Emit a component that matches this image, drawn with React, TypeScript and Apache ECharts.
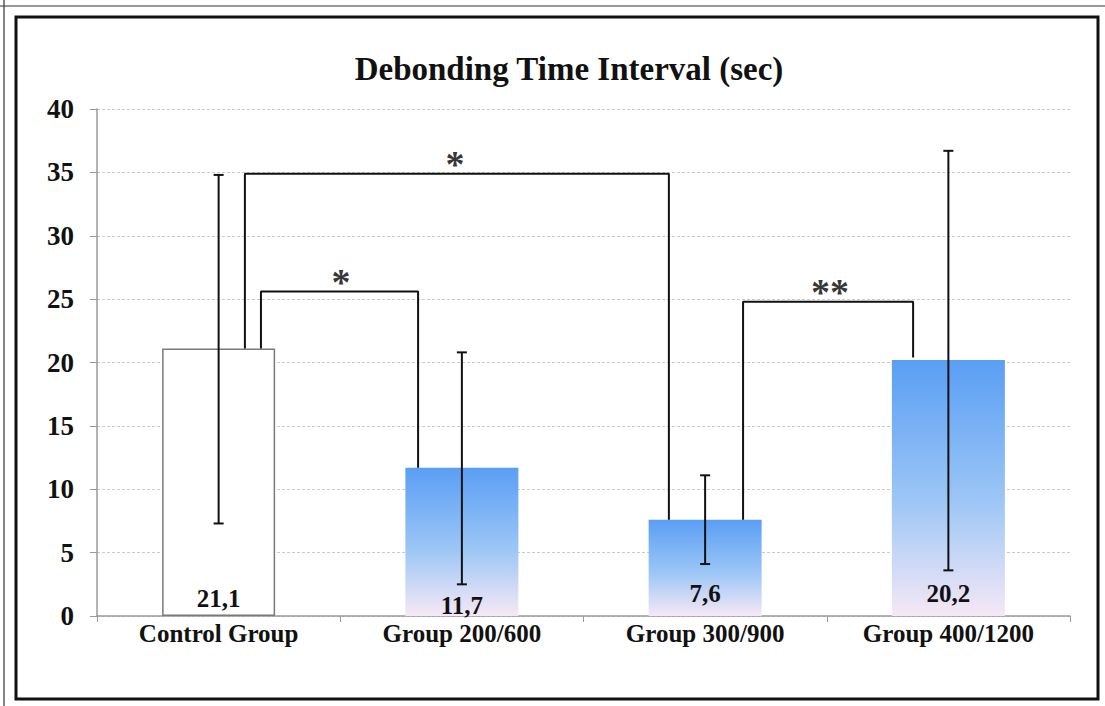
import React, { useEffect, useRef } from "react";
import * as echarts from "echarts";

const categories = ["Control Group", "Group 200/600", "Group 300/900", "Group 400/1200"];
const means = [21.1, 11.7, 7.6, 20.2];
const valueLabels = ["21,1", "11,7", "7,6", "20,2"];
const errLow = [7.3, 2.5, 4.1, 3.6];
const errHigh = [34.8, 20.8, 11.1, 36.7];
const yTicks = [0, 5, 10, 15, 20, 25, 30, 35, 40];

// significance brackets (x in category units, y in seconds)
const bracketX1 = [0.108, 0.174, 2.156];
const bracketX2 = [1.851, 0.82, 2.855];
const bracketTop = [34.9, 25.6, 24.8];
const bracketLeftBottom = [21.1, 21.1, 7.6];
const bracketRightBottom = [7.6, 11.7, 20.4];
const bracketStarX = [0.972, 0.503, 2.513];
const bracketStars = ["*", "*", "**"];

const SERIF = "'Liberation Serif', 'Times New Roman', serif";
const labelDistances = [5, -2, 10, 10];

export default function App() {
  const ref = useRef<HTMLDivElement>(null);
  useEffect(() => {
    if (!ref.current) return;
    const chart = echarts.init(ref.current, null, { renderer: "svg" });
    const blueGrad = new echarts.graphic.LinearGradient(0, 0, 0, 1, [
      { offset: 0, color: "#5a9ef4" },
      { offset: 0.55, color: "#9cc6f6" },
      { offset: 1, color: "#f6e8f6" },
    ]);
    const barData = means.map((v, i) => ({
      value: v,
      itemStyle:
        i === 0
          ? { color: "#ffffff", borderColor: "#7a7a7a", borderWidth: 1.5 }
          : { color: blueGrad },
      label: { distance: labelDistances[i] },
    }));
    const bracketSeries = bracketX1.map((x1, i) => ({
      type: "line",
      xAxisIndex: 1,
      yAxisIndex: 0,
      symbol: "none",
      silent: true,
      z: 5,
      lineStyle: { color: "#111", width: 2 },
      data: [
        [x1, bracketLeftBottom[i]],
        [x1, bracketTop[i]],
        [bracketX2[i], bracketTop[i]],
        [bracketX2[i], bracketRightBottom[i]],
      ],
    }));
    const option = {
      animation: false,
      backgroundColor: "#ffffff",
      title: {
        text: "Debonding Time Interval (sec)",
        left: 564,
        textAlign: "center",
        top: 47,
        textStyle: { fontFamily: SERIF, fontWeight: "bold", fontSize: 33, color: "#111" },
      },
      grid: { left: 97, right: 35, top: 109, bottom: 90, containLabel: false },
      xAxis: [
        {
          type: "category",
          data: categories,
          axisLine: { onZero: false, lineStyle: { color: "#9a9a9a", width: 1.5 } },
          axisTick: { show: true, length: 6, lineStyle: { color: "#9a9a9a" } },
          axisLabel: {
            fontFamily: SERIF,
            fontWeight: "bold",
            fontSize: 25,
            color: "#111",
            margin: 5,
          },
          splitLine: { show: false },
        },
        {
          type: "value",
          min: -0.5,
          max: 3.5,
          show: false,
        },
      ],
      yAxis: {
        type: "value",
        min: 0,
        max: 40,
        interval: 5,
        axisLine: { show: true, onZero: false, lineStyle: { color: "#9a9a9a", width: 1.5 } },
        axisTick: { show: true, length: 7, lineStyle: { color: "#9a9a9a" } },
        axisLabel: {
          fontFamily: SERIF,
          fontWeight: "bold",
          fontSize: 27,
          color: "#111",
          margin: 23,
          formatter: (v: number) => (yTicks.includes(v) ? String(v) : ""),
        },
        splitLine: { lineStyle: { color: "#cccccc", type: [3, 2], width: 1 } },
      },
      graphic: [
        { type: "line", shape: { x1: 4, y1: 0, x2: 4, y2: 706 }, style: { stroke: "#333", lineWidth: 1.2 } },
        { type: "line", shape: { x1: 0, y1: 6, x2: 1105, y2: 6 }, style: { stroke: "#333", lineWidth: 1.2 } },
        {
          type: "rect",
          shape: { x: 16, y: 17, width: 1082, height: 682 },
          style: { fill: "none", stroke: "#111", lineWidth: 3 },
          z: -1,
        },
      ],
      series: [
        {
          type: "bar",
          data: barData,
          barWidth: 113,
          z: 2,
          label: {
            show: true,
            position: "insideBottom",
            distance: 5,
            fontFamily: SERIF,
            fontWeight: "bold",
            fontSize: 25,
            color: "#111",
            formatter: (p: any) => valueLabels[p.dataIndex],
          },
        },
        {
          type: "custom",
          z: 6,
          silent: true,
          data: categories.map((_, i) => [i, errLow[i], errHigh[i]]),
          renderItem: (params: any, api: any) => {
            const x = api.coord([api.value(0), 0])[0];
            const lo = api.coord([api.value(0), api.value(1)])[1];
            const hi = api.coord([api.value(0), api.value(2)])[1];
            const style = { stroke: "#111", lineWidth: 2 };
            return {
              type: "group",
              children: [
                { type: "line", shape: { x1: x, y1: lo, x2: x, y2: hi }, style },
                { type: "line", shape: { x1: x - 5, y1: lo, x2: x + 5, y2: lo }, style },
                { type: "line", shape: { x1: x - 5, y1: hi, x2: x + 5, y2: hi }, style },
              ],
            };
          },
        },
        ...bracketSeries,
        {
          type: "scatter",
          xAxisIndex: 1,
          yAxisIndex: 0,
          symbolSize: 1,
          itemStyle: { color: "transparent" },
          silent: true,
          z: 7,
          data: bracketStarX.map((x, i) => [x, bracketTop[i]]),
          label: {
            show: true,
            position: "top",
            distance: -10,
            fontFamily: SERIF,
            fontWeight: "bold",
            fontSize: 38,
            color: "#000",
            formatter: (p: any) => bracketStars[p.dataIndex],
          },
        },
      ],
    };
    chart.setOption(option as any);
    return () => chart.dispose();
  }, []);
  return (
    <div
      ref={ref}
      style={{ position: "fixed", left: 0, top: 0, width: 1105, height: 706, background: "#fff" }}
    />
  );
}
